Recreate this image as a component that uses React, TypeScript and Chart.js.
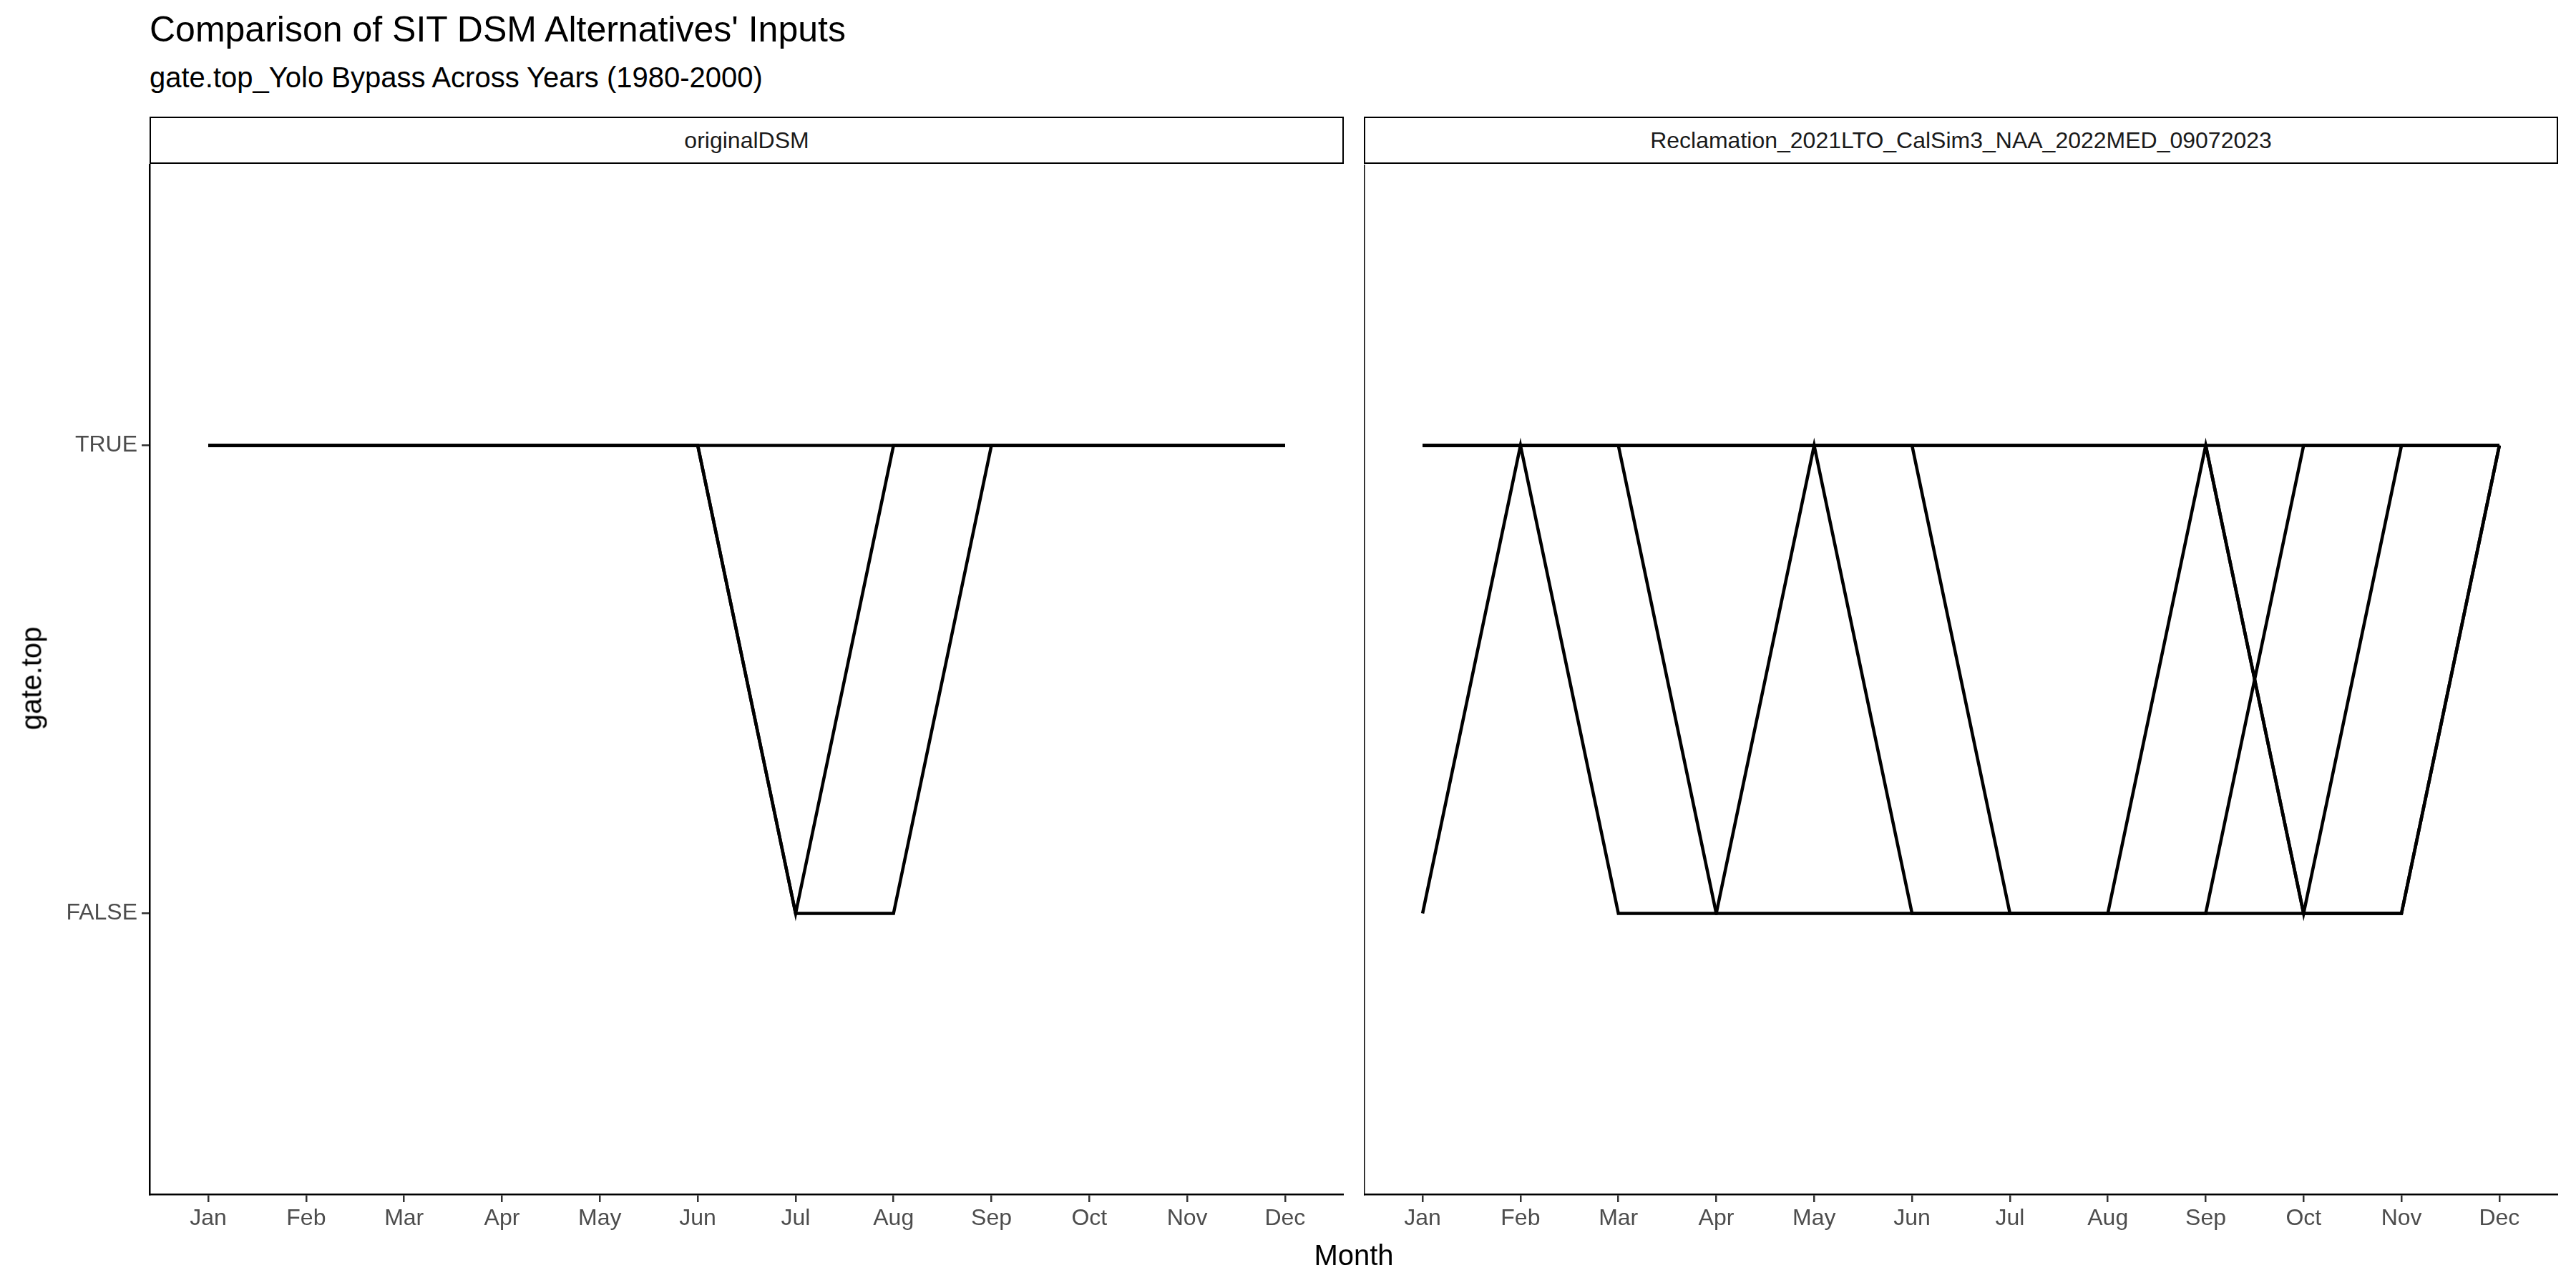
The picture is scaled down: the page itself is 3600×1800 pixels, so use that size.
import React, { useEffect, useRef } from "react";
import { Chart, registerables } from "chart.js";
Chart.register(...registerables);

const months = ["Jan","Feb","Mar","Apr","May","Jun","Jul","Aug","Sep","Oct","Nov","Dec"];
const yLabels = ["FALSE", "TRUE"];
const panels = ["originalDSM", "Reclamation_2021LTO_CalSim3_NAA_2022MED_09072023"];
const T = true, F = false;
const originalYears: boolean[][] = [
  [T,T,T,T,T,T,T,T,T,T,T,T],
  [T,T,T,T,T,T,F,T,T,T,T,T],
  [T,T,T,T,T,T,F,F,T,T,T,T],
];
const reclamationYears: boolean[][] = [
  [T,T,T,T,T,T,T,T,T,T,T,T],
  [F,T,F,F,T,F,F,F,T,F,T,T],
  [T,T,T,F,F,F,F,F,F,T,T,T],
  [T,T,T,T,T,T,T,T,T,F,F,T],
  [T,T,T,T,T,T,F,F,F,F,F,T],
];

const FONT = "'Liberation Sans', Arial, sans-serif";

function Panel({ years, left, top, width, height, showY }: { years: boolean[][]; left: number; top: number; width: number; height: number; showY: boolean }) {
  const ref = useRef<HTMLCanvasElement>(null);
  useEffect(() => {
    const yW = showY ? 149 : 0;
    const chart = new Chart(ref.current!, {
      type: "line",
      data: {
        datasets: years.map((yr) => ({
          data: yr.map((v, i) => ({ x: i, y: v ? 1 : 0 })),
          borderColor: "#000",
          borderWidth: 4.5,
          pointRadius: 0,
          tension: 0,
        })),
      },
      options: {
        animation: false,
        responsive: false,
        maintainAspectRatio: false,
        plugins: { legend: { display: false }, tooltip: { enabled: false } },
        layout: { padding: 0 },
        scales: {
          x: {
            type: "linear", min: -0.6, max: 11.6,
            afterBuildTicks: (s: any) => { s.ticks = months.map((_, i) => ({ value: i })); },
            afterFit: (s: any) => { s.height = 71; },
            ticks: { callback: (v: any) => months[v as number] ?? "", color: "#4d4d4d", font: { family: FONT, size: 32 }, padding: 4, maxRotation: 0, autoSkip: false },
            grid: { drawOnChartArea: false, drawTicks: true, tickLength: 11, color: "#333", lineWidth: 2.5 },
            border: { display: true, color: "#000", width: 2.5 },
          },
          y: {
            type: "linear", min: -0.6, max: 1.6,
            afterBuildTicks: (s: any) => { s.ticks = [{ value: 0 }, { value: 1 }]; },
            afterFit: (s: any) => { s.width = yW; },
            ticks: { display: showY, callback: (v: any) => yLabels[v as number] ?? "", color: "#4d4d4d", font: { family: FONT, size: 32 }, padding: 6 },
            grid: { drawOnChartArea: false, drawTicks: showY, tickLength: 11, color: "#333", lineWidth: 2.5 },
            border: { display: true, color: "#000", width: 2.5 },
          },
        },
      },
    });
    return () => chart.destroy();
  }, []);
  return (
    <canvas ref={ref} width={width} height={height}
      style={{ position: "absolute", left, top, width, height }} />
  );
}

function Strip({ left, width, label }: { left: number; width: number; label: string }) {
  return (
    <div style={{ position: "absolute", left, top: 163, width: width - 4, height: 62, border: "2.5px solid #000",
      display: "flex", alignItems: "center", justifyContent: "center", fontFamily: FONT, fontSize: 32, color: "#1a1a1a" }}>
      {label}
    </div>
  );
}

export default function App() {
  return (
    <div style={{ position: "fixed", left: 0, top: 0, width: 3600, height: 1800, background: "#fff", overflow: "hidden" }}>
      <div style={{ position: "absolute", left: 209, top: 12, fontFamily: FONT, fontSize: 50, color: "#000" }}>
        Comparison of SIT DSM Alternatives' Inputs
      </div>
      <div style={{ position: "absolute", left: 209, top: 86, fontFamily: FONT, fontSize: 40, color: "#000" }}>
        gate.top_Yolo Bypass Across Years (1980-2000)
      </div>
      <Strip left={209} width={1669} label={panels[0]} />
      <Strip left={1906} width={1669} label={panels[1]} />
      <Panel years={originalYears} left={60} top={205} width={1818} height={1535} showY={true} />
      <Panel years={reclamationYears} left={1906} top={230} width={1669} height={1510} showY={false} />
      <div style={{ position: "absolute", left: 0, top: 1732, width: 3784, textAlign: "center", fontFamily: FONT, fontSize: 40 }}>
        Month
      </div>
      <div style={{ position: "absolute", left: 44, top: 948, transform: "translate(-50%,-50%) rotate(-90deg)", fontFamily: FONT, fontSize: 40, whiteSpace: "nowrap" }}>
        gate.top
      </div>
    </div>
  );
}
